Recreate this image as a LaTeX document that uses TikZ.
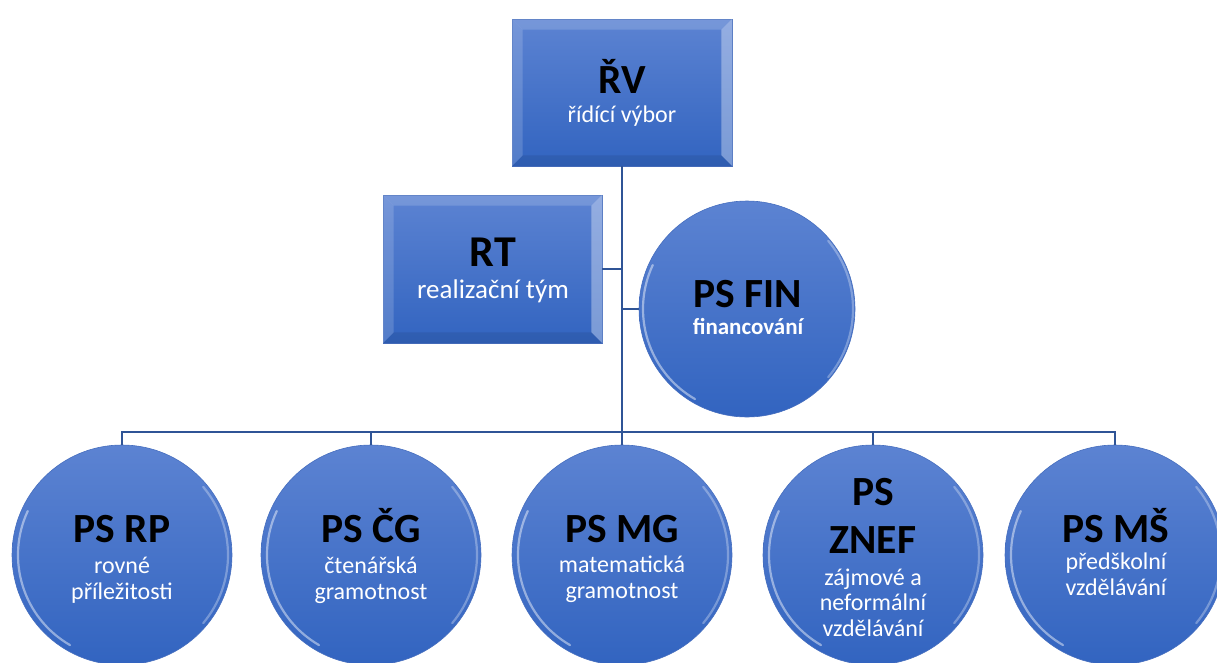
\documentclass[tikz,border=0pt]{standalone}
\usepackage{fontspec}
\setmainfont{Carlito}
\usetikzlibrary{calc}
\definecolor{bluetop}{RGB}{92,131,210}
\definecolor{bluebot}{RGB}{50,100,192}
\definecolor{blueedge}{RGB}{70,110,190}
\definecolor{connblue}{RGB}{47,84,150}
\tikzset{
  conn/.style={draw=connblue, line width=2.8pt},
  bluefill/.style={top color=bluetop, bottom color=bluebot, draw=blueedge, line width=0.6pt},
  boxnode/.style={bluefill, rectangle, minimum width=220pt, minimum height=147pt, inner sep=0pt},
  circnode/.style={bluefill, circle, minimum size=220pt, inner sep=0pt},
  ttl/.style={anchor=base, inner sep=0pt, text=black, font=\fontsize{41.5}{48}\selectfont\bfseries},
  ttlbig/.style={ttl, font=\fontsize{44}{50}\selectfont\bfseries},
  sub/.style={anchor=base, inner sep=0pt, text=white, font=\fontsize{24}{28}\selectfont},
  subbig/.style={sub, font=\fontsize{27}{31}\selectfont},
  subb/.style={sub, font=\fontsize{23}{27}\selectfont\bfseries},
  bevlight/.style={fill=white, fill opacity=0.16, draw=none},
  bevright/.style={fill=white, fill opacity=0.35, draw=none},
  bevdark/.style={fill=black, fill opacity=0.08, draw=none},
  gloss/.style={draw=white, draw opacity=0.45, line width=2.2pt, line cap=round},
}
\newcommand{\bevelbox}[2]{%
  \path[bevlight] (#1.north west) -- (#1.north east) -- ($(#1.north east)+(-#2,#2)$) -- ($(#1.north west)+(#2,#2)$) -- cycle;
  \path[bevlight] (#1.north west) -- ($(#1.north west)+(#2,#2)$) -- ($(#1.south west)+(#2,-#2)$) -- (#1.south west) -- cycle;
  \path[bevright] (#1.north east) -- (#1.south east) -- ($(#1.south east)+(-#2,-#2)$) -- ($(#1.north east)+(-#2,#2)$) -- cycle;
  \path[bevdark] (#1.south west) -- (#1.south east) -- ($(#1.south east)+(-#2,-#2)$) -- ($(#1.south west)+(#2,-#2)$) -- cycle;
}
\newcommand{\glosscirc}[1]{%
  \draw[gloss] ($(#1.center)+(120:104)$) arc[start angle=120, end angle=205, radius=104];
  \draw[gloss, draw opacity=0.3] ($(#1.center)+(-40:106)$) arc[start angle=-40, end angle=40, radius=106];
}
\begin{document}
\begin{tikzpicture}[x=1pt, y=-1pt]
  \useasboundingbox (0,0) rectangle (1217,662);
  \clip (0,0) rectangle (1217,662);

  % shapes
  \node[boxnode] (rv) at (622,92.5) {};
  \node[boxnode, minimum width=219pt, minimum height=148pt] (rt) at (492.5,269) {};
  \node[circnode, minimum size=216pt] (fin) at (747,309) {};
  \node[circnode] (rp)   at (122,555) {};
  \node[circnode] (cg)   at (371,555) {};
  \node[circnode] (mg)   at (622,555) {};
  \node[circnode] (znef) at (873,555) {};
  \node[circnode] (ms)   at (1115,555) {};

  \bevelbox{rv}{11}
  \bevelbox{rt}{11}
  \foreach \c in {fin,rp,cg,mg,znef,ms} {\glosscirc{\c}}

  % connectors
  \coordinate (bus) at (622,432);
  \draw[conn] (rv.south) -- (bus);
  \draw[conn] (rt.east) -- (rt.east -| rv.south);
  \draw[conn] (fin.west) -- (fin.west -| rv.south);
  \draw[conn] (rp.north) -- (bus -| rp.north) -- (bus -| ms.north) -- (ms.north);
  \draw[conn] (bus -| cg.north) -- (cg.north);
  \draw[conn] (bus -| mg.north) -- (mg.north);
  \draw[conn] (bus -| znef.north) -- (znef.north);

  % texts
  \node[ttl] (rv-t) at (622,93) {ŘV};
  \node[sub] (rv-s) at (622,122) {řídící výbor};

  \node[ttlbig] (rt-t) at (493,266) {RT};
  \node[subbig] (rt-s) at (493,298) {realizační tým};

  \node[ttl] (fin-t) at (748,307) {PS FIN};
  \node[subb] (fin-s) at (748,334) {financování};

  \node[ttl] (rp-t) at (122,542) {PS RP};
  \node[sub] (rp-s1) at (122,573) {rovné};
  \node[sub] (rp-s2) at (122,599) {příležitosti};

  \node[ttl] (cg-t) at (371,542) {PS ČG};
  \node[sub] (cg-s1) at (371,573) {čtenářská};
  \node[sub] (cg-s2) at (371,599) {gramotnost};

  \node[ttl] (mg-t) at (622,542) {PS MG};
  \node[sub] (mg-s1) at (622,572) {matematická};
  \node[sub] (mg-s2) at (622,598) {gramotnost};

  \node[ttl] (znef-t1) at (873,505) {PS};
  \node[ttl] (znef-t2) at (873,553) {ZNEF};
  \node[sub] (znef-s1) at (873,585) {zájmové a};
  \node[sub] (znef-s2) at (873,610) {neformální};
  \node[sub] (znef-s3) at (873,636) {vzdělávání};

  \node[ttl] (ms-t) at (1116,542) {PS MŠ};
  \node[sub] (ms-s1) at (1116,569) {předškolní};
  \node[sub] (ms-s2) at (1116,595) {vzdělávání};
\end{tikzpicture}
\end{document}
